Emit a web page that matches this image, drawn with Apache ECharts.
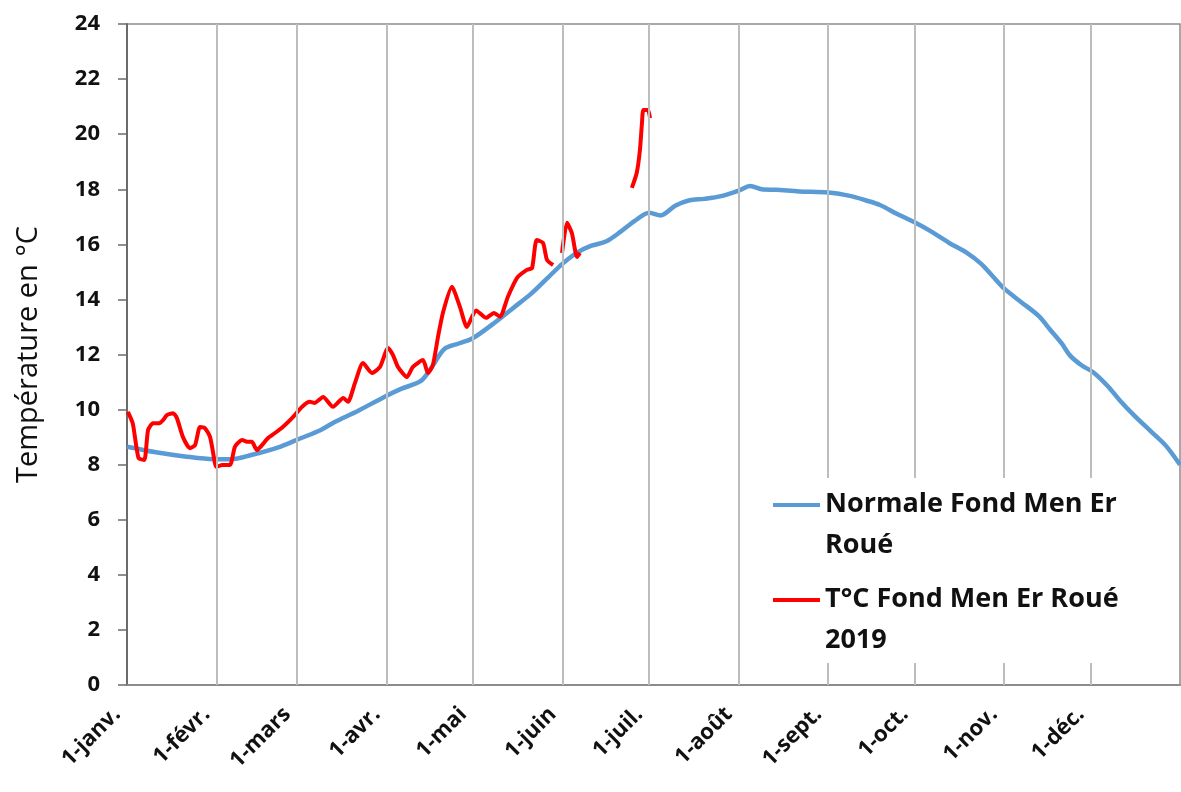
<!DOCTYPE html>
<html>
<head>
<meta charset="utf-8">
<script src="https://cdn.jsdelivr.net/npm/echarts@6/dist/echarts.min.js"></script>
<style>
  html, body { margin: 0; padding: 0; background: #fff; }
  #chart { width: 1181px; height: 792px; }
</style>
</head>
<body>
<div id="chart"></div>
<script>
// jour de l'année (0 = 1-janv.)
var debutsMois = [0, 31, 59, 90, 120, 151, 181, 212, 243, 273, 304, 334]
var nomsMois = ['1-janv.', '1-févr.', '1-mars', '1-avr.', '1-mai', '1-juin', '1-juil.', '1-août', '1-sept.', '1-oct.', '1-nov.', '1-déc.']

// normale
var normaleJours = [0, 10, 20, 30, 36, 43, 53, 60, 67, 72, 80, 89, 95, 102, 106, 110, 115, 120, 128, 134, 140, 146, 151, 156, 161, 166, 171, 176, 181, 185, 190, 195, 200, 206, 212, 216, 220, 225, 233, 243, 251, 256, 261, 267, 273, 279, 285, 291, 296, 300, 304, 310, 316, 320, 324, 327, 331, 335, 340, 344, 349, 355, 360, 365]
var normaleValeurs = [8.65, 8.45, 8.3, 8.2, 8.2, 8.35, 8.65, 8.95, 9.25, 9.55, 9.95, 10.45, 10.75, 11.05, 11.6, 12.2, 12.4, 12.6, 13.2, 13.7, 14.2, 14.8, 15.3, 15.7, 15.95, 16.1, 16.45, 16.85, 17.15, 17.05, 17.4, 17.6, 17.65, 17.75, 17.95, 18.12, 18.0, 17.98, 17.92, 17.88, 17.75, 17.6, 17.43, 17.1, 16.8, 16.45, 16.05, 15.7, 15.3, 14.85, 14.4, 13.9, 13.4, 12.9, 12.4, 11.95, 11.6, 11.35, 10.85, 10.35, 9.8, 9.2, 8.7, 8.0]

// 2019 (null = pas de mesure)
var mesureJours = [0.3, 2, 4, 6, 7.3, 9, 11, 12.5, 13.8, 16, 17.3, 19.4, 21.8, 23.6, 25.3, 27, 28.8, 30.5, 31, 33, 35.7, 37.4, 39.9, 41.6, 43.3, 45, 46.8, 48.9, 51.3, 54, 57.2, 60.7, 63.4, 65, 68, 71.4, 75, 76.6, 79, 81.8, 84.9, 87.7, 90.5, 92.2, 93.9, 97, 99.1, 102.6, 104.3, 106, 107.8, 109.5, 112.6, 115.4, 117.8, 121, 124.5, 127.2, 129.3, 132, 135.2, 138.6, 140.4, 142, 144.2, 145.6, 147.7,
  149,
  150.8, 152.5, 154.2, 156, 157,
  166,
  175, 176.7, 177.8, 178.5, 179, 180.6, 181.3]
var mesureValeurs = [9.92, 9.5, 8.24, 8.17, 9.26, 9.5, 9.5, 9.62, 9.8, 9.87, 9.69, 9.0, 8.6, 8.71, 9.37, 9.33, 9.0, 8.05, 7.92, 7.99, 7.99, 8.65, 8.9, 8.83, 8.83, 8.53, 8.71, 8.97, 9.15, 9.37, 9.69, 10.1, 10.28, 10.24, 10.46, 10.1, 10.42, 10.28, 10.96, 11.69, 11.33, 11.55, 12.24, 11.98, 11.55, 11.18, 11.55, 11.8, 11.33, 11.6, 12.64, 13.51, 14.46, 13.73, 13.0, 13.6, 13.33, 13.51, 13.37, 14.09, 14.78, 15.07, 15.14, 16.16, 16.05, 15.43, 15.25,
  null,
  15.69, 16.78, 16.41, 15.54, 15.69,
  null,
  18.05, 18.6, 19.43, 20.4, 20.88, 20.88, 20.59]

var nomNormale = 'Normale Fond Men Er\nRoué'
var nomMesure = 'T°C Fond Men Er Roué\n2019'

var normale = normaleJours.map(function (j, i) { return [j, normaleValeurs[i]] })
var mesure = mesureJours.map(function (j, i) {
  return mesureValeurs[i] == null ? [j, '-'] : [j, mesureValeurs[i]]
})

// trait de légende aligné sur la première ligne du texte
var iconeLegende = 'path://M0,19h47v4h-47z M0,0h0.01v0.01h-0.01z M0,82h0.01v0.01h-0.01z'

var myChart = echarts.init(document.getElementById('chart'))
var option = {
  animation: false,
  textStyle: { fontFamily: 'Open Sans' },
  grid: {
    left: 127,
    right: 1,
    top: 24,
    bottom: 107,
    outerBoundsMode: 'none',
    containLabel: false,
    show: true,
    borderColor: '#8c8c8c',
    borderWidth: 1.5
  },
  legend: {
    left: 765,
    top: 478,
    padding: [6, 42, 2, 8],
    backgroundColor: '#fff',
    z: 10,
    orient: 'vertical',
    icon: iconeLegende,
    itemWidth: 47,
    itemHeight: 82,
    itemGap: 13,
    textStyle: { fontSize: 27, fontWeight: 'bold', color: '#111', lineHeight: 41 },
    data: [nomNormale, nomMesure]
  },
  xAxis: {
    type: 'value',
    min: 0,
    max: 365,
    axisLine: { lineStyle: { color: '#8c8c8c', width: 2 } },
    axisTick: { show: false },
    splitLine: { show: false },
    axisLabel: {
      customValues: debutsMois,
      formatter: function (v) { return nomsMois[debutsMois.indexOf(v)] },
      rotate: 45,
      margin: 16,
      padding: [0, 14, 0, 0],
      fontSize: 22,
      fontWeight: 'bold',
      color: '#111'
    }
  },
  yAxis: {
    type: 'value',
    min: 0,
    max: 24,
    interval: 2,
    name: 'Température en °C',
    nameLocation: 'middle',
    nameGap: 84,
    nameTextStyle: { fontSize: 29, color: '#111' },
    axisLine: { show: true, lineStyle: { color: '#6b6b6b', width: 2 } },
    axisTick: { show: true, length: 9, lineStyle: { color: '#6b6b6b', width: 1.5 } },
    splitLine: { show: false },
    axisLabel: { fontSize: 22, fontWeight: 'bold', color: '#111', margin: 27 }
  },
  series: [
    {
      name: nomNormale,
      type: 'line',
      data: normale,
      showSymbol: false,
      smooth: 0.3,
      color: '#5b9bd5',
      lineStyle: { width: 4.5 },
      z: 3,
      markLine: {
        silent: true,
        symbol: 'none',
        label: { show: false },
        lineStyle: { color: '#bdbdbd', type: 'solid', width: 2 },
        data: debutsMois.slice(1).map(function (d) { return { xAxis: d } })
      }
    },
    {
      name: nomMesure,
      type: 'line',
      data: mesure,
      showSymbol: false,
      connectNulls: false,
      smooth: 0.2,
      color: '#ff0000',
      lineStyle: { width: 4 },
      z: 4
    }
  ]
}
myChart.setOption(option)
</script>
</body>
</html>
